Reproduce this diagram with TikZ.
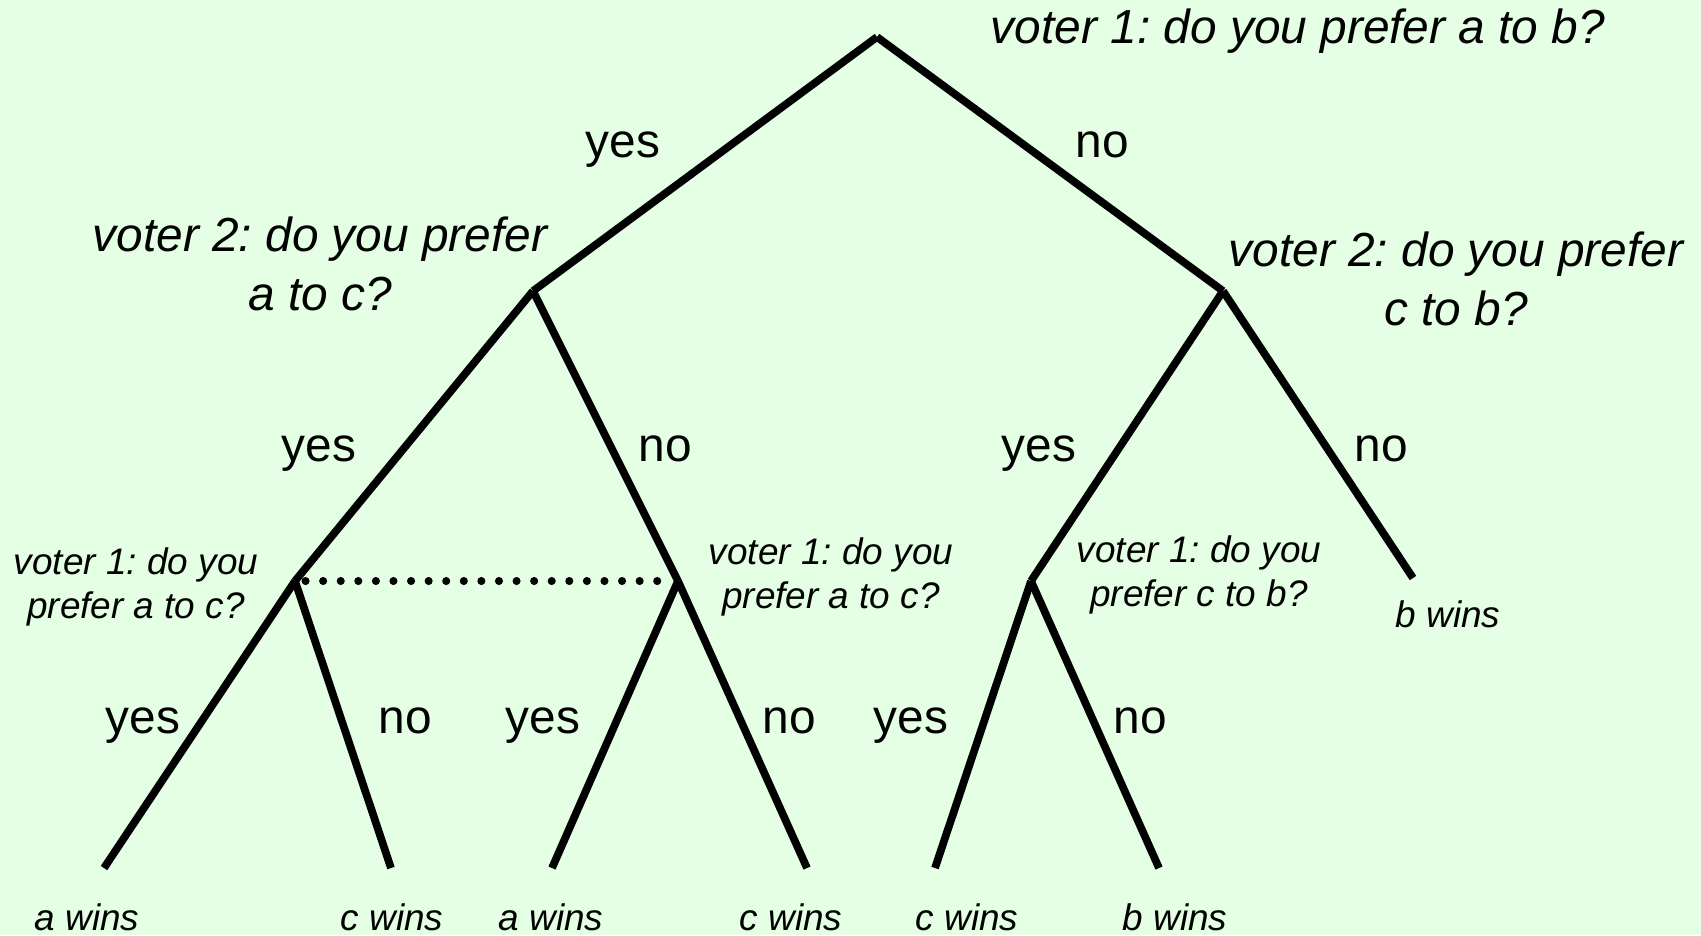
\documentclass[tikz,border=0pt]{standalone}
\usepackage{fontspec}
\setmainfont{Liberation Sans}
\usepackage{xcolor}
\usepackage{tikz}
\definecolor{treebg}{RGB}{228,255,228}
\frenchspacing

\begin{document}
\begin{tikzpicture}[x=0.01cm, y=-0.01cm,
    branch/.style={line width=2.2pt},
    infoset/.style={line width=2.3pt, line cap=round, dash pattern=on 0pt off 5pt},
    answer/.style={font=\fontsize{13.6}{16.5}\selectfont, anchor=base},
    question/.style={font=\fontsize{13.6}{16.5}\selectfont\itshape, align=center, anchor=base},
    smallq/.style={font=\fontsize{10.5}{12.5}\selectfont\itshape, align=center, anchor=base},
    outcome/.style={font=\fontsize{10.5}{12.5}\selectfont\itshape, anchor=base}]
    \fill[treebg] (0,0) rectangle (1701,935);
    \useasboundingbox (0,0) rectangle (1701,935);
    % decision points
    \coordinate (root) at (877,37);
    \coordinate (v2a) at (533,291);
    \coordinate (v2b) at (1223,291);
    \coordinate (v1a) at (295,581);
    \coordinate (v1b) at (678,581);
    \coordinate (v1c) at (1031,581);
    % end points
    \coordinate (endb) at (1413,578);
    \coordinate (end1) at (104,868);
    \coordinate (end2) at (391,868);
    \coordinate (end3) at (552,868);
    \coordinate (end4) at (807,868);
    \coordinate (end5) at (935,868);
    \coordinate (end6) at (1159,868);
    % branches
    \draw[branch] (root) -- (v2a);
    \draw[branch] (root) -- (v2b);
    \draw[branch] (v2a) -- (v1a);
    \draw[branch] (v2a) -- (v1b);
    \draw[branch] (v2b) -- (v1c);
    \draw[branch] (v2b) -- (endb);
    \draw[branch] (v1a) -- (end1);
    \draw[branch] (v1a) -- (end2);
    \draw[branch] (v1b) -- (end3);
    \draw[branch] (v1b) -- (end4);
    \draw[branch] (v1c) -- (end5);
    \draw[branch] (v1c) -- (end6);
    % voter 1 cannot tell these two apart
    \draw[infoset, shorten <=3pt, shorten >=4pt] (v1a) -- (v1b);
    % questions (base = last line)
    \node[question] (q0) at (1298,43) {voter 1: do you prefer a to b?};
    \node[question] (q2a) at (320,310) {voter 2: do you prefer\\a to c?};
    \node[question] (q2b) at (1456,325) {voter 2: do you prefer\\c to b?};
    \node[smallq] (q1a) at (136,618) {voter 1: do you\\prefer a to c?};
    \node[smallq] (q1b) at (831,608) {voter 1: do you\\prefer a to c?};
    \node[smallq] (q1c) at (1199,606) {voter 1: do you\\prefer c to b?};
    % answers
    \node[answer] (y0) at (623,157) {yes};
    \node[answer] (n0) at (1102,157) {no};
    \node[answer] (y2a) at (319,461) {yes};
    \node[answer] (n2a) at (665,461) {no};
    \node[answer] (y2b) at (1039,461) {yes};
    \node[answer] (n2b) at (1381,461) {no};
    \node[answer] (y1a) at (143,733) {yes};
    \node[answer] (n1a) at (405,733) {no};
    \node[answer] (y1b) at (543,733) {yes};
    \node[answer] (n1b) at (789,733) {no};
    \node[answer] (y1c) at (911,733) {yes};
    \node[answer] (n1c) at (1140,733) {no};
    % outcomes
    \node[outcome] (wb) at (1448,627) {b wins};
    \node[outcome] (w1) at (87,930) {a wins};
    \node[outcome] (w2) at (392,930) {c wins};
    \node[outcome] (w3) at (551,930) {a wins};
    \node[outcome] (w4) at (791,930) {c wins};
    \node[outcome] (w5) at (967,930) {c wins};
    \node[outcome] (w6) at (1175,930) {b wins};
\end{tikzpicture}
\end{document}
